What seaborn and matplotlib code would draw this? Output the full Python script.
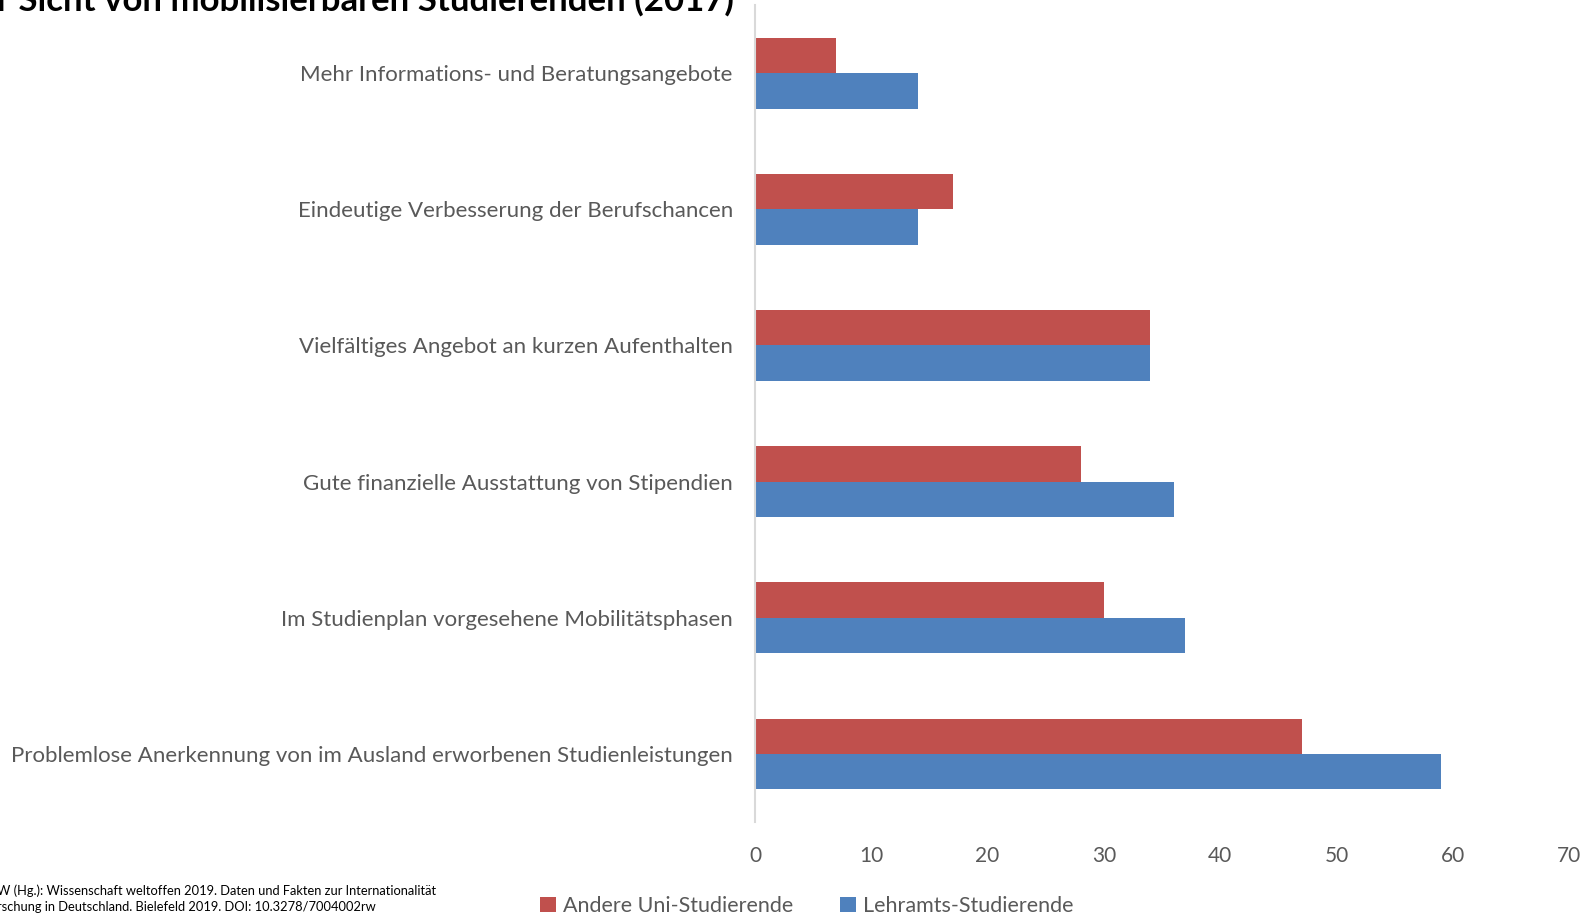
import matplotlib
matplotlib.use("Agg")
import matplotlib.pyplot as plt
import seaborn as sns
import pandas as pd

# data
categories = [
    "Mehr Informations- und Beratungsangebote",
    "Eindeutige Verbesserung der Berufschancen",
    "Vielfältiges Angebot an kurzen Aufenthalten",
    "Gute finanzielle Ausstattung von Stipendien",
    "Im Studienplan vorgesehene Mobilitätsphasen",
    "Problemlose Anerkennung von im Ausland erworbenen Studienleistungen",
]
series_names = ["Andere Uni-Studierende", "Lehramts-Studierende"]
andere = [7, 17, 34, 28, 30, 47]
lehramt = [14, 14, 34, 36, 37, 59]
xticks = [0, 10, 20, 30, 40, 50, 60, 70]

title_visible = "r Sicht von mobilisierbaren Studierenden (2017)"
source_lines = [
    "W (Hg.): Wissenschaft weltoffen 2019. Daten und Fakten zur Internationalität",
    "rschung in Deutschland. Bielefeld 2019. DOI: 10.3278/7004002rw",
]

colors = {"Andere Uni-Studierende": "#C0504D", "Lehramts-Studierende": "#4F81BD"}
text_grey = "#595959"

df = pd.DataFrame({
    "kategorie": categories * 2,
    "gruppe": [series_names[0]] * len(categories) + [series_names[1]] * len(categories),
    "wert": andere + lehramt,
})

sns.set_theme(style="white")
plt.rcParams["font.family"] = ["Lato", "DejaVu Sans"]

fig = plt.figure(figsize=(15.94, 9.17), dpi=100)
ax = fig.add_axes([0.4737, 0.1036, 0.5106, 0.8909])

sns.barplot(data=df, x="wert", y="kategorie", hue="gruppe", order=categories,
            hue_order=series_names, palette=colors, orient="h",
            width=0.52, gap=0, edgecolor="none", linewidth=0, saturation=1, ax=ax)

ax.set_xlim(0, 70)
ax.set_ylim(len(categories) - 0.5, -0.5)
ax.set_xticks(xticks)
ax.set_xlabel("")
ax.set_ylabel("")
ax.tick_params(axis="both", length=0, colors=text_grey)
ax.tick_params(axis="x", pad=17, labelsize=15)
ax.tick_params(axis="y", pad=16, labelsize=16)
for s in ["top", "right", "bottom"]:
    ax.spines[s].set_visible(False)
ax.spines["left"].set_color("#D9D9D9")
ax.spines["left"].set_linewidth(1.5)
ax.grid(False)

ax.get_legend().remove()
handles, labels = ax.get_legend_handles_labels()
fig.legend(handles, labels, loc="center", bbox_to_anchor=(0.506, 0.012), ncol=2,
           frameon=False, fontsize=15.5, handlelength=0.75, handleheight=0.75,
           handletextpad=0.3, columnspacing=2.2, labelcolor=text_grey)

fig.text(-0.002, 1.0, title_visible, ha="left", va="center", fontsize=25,
         fontweight="bold", color="#000000")
fig.text(-0.002, 0.029, source_lines[0], ha="left", va="center", fontsize=9.3, color="#000000")
fig.text(-0.002, 0.011, source_lines[1], ha="left", va="center", fontsize=9.3, color="#000000")

fig.savefig("out.png", dpi=100)
